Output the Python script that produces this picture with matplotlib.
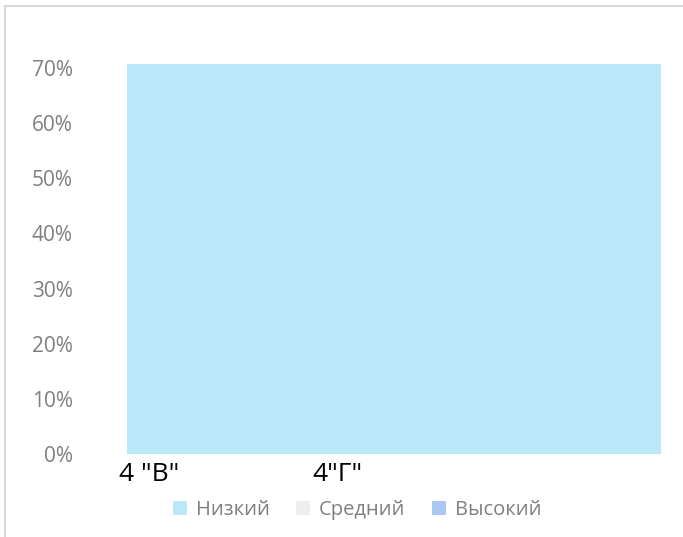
import matplotlib
matplotlib.use("Agg")
from matplotlib import pyplot as plt
from matplotlib.patches import Rectangle, Patch
from matplotlib.ticker import PercentFormatter

categories = ['4 "В"', '4"Г"']
series = ["Низкий", "Средний", "Высокий"]
low = [0.707, 0.707]
mid = [0.0, 0.0]
high = [0.0, 0.0]
colors = ["#BBE8F9", "#EEEEEE", "#A9C9F3"]

plt.rcParams['font.family'] = ['Open Sans', 'DejaVu Sans']

fig = plt.figure(figsize=(6.83, 5.37), dpi=100)
W, H = 683, 537
# axes: x 127..661 px, y 0% at 454 px, 0.75 at ~40 px
ax = fig.add_axes([127 / W, 1 - 454 / H, (661 - 127) / W, (454 - 40.4) / H])

x = list(range(len(categories)))
ax.bar(x, low, width=1.0, color=colors[0], label=series[0])
ax.bar(x, mid, width=1.0, bottom=low, color=colors[1], label=series[1])
ax.bar(x, high, width=1.0, bottom=[a + b for a, b in zip(low, mid)],
       color=colors[2], label=series[2])

ax.set_xlim(-0.5, len(categories) - 0.5)
ax.set_ylim(0, 0.75)
ax.set_yticks([i / 10 for i in range(8)])
ax.yaxis.set_major_formatter(PercentFormatter(1.0, decimals=0))
ax.tick_params(axis='y', length=0, pad=39, labelsize=15, labelcolor="#7F7F7F")
ax.set_xticks([])
for s in ax.spines.values():
    s.set_visible(False)

# category labels placed as in the source
for xf, txt in zip([0.042, 0.395], categories):
    ax.text(xf, -0.05, txt, transform=ax.transAxes, ha='center', va='center',
            fontsize=19, color="black")

handles = [Patch(facecolor=c, edgecolor='none') for c in colors]
fig.legend(handles, series, loc='center', bbox_to_anchor=(357 / W, 1 - 510 / H),
           ncol=3, frameon=False, fontsize=14.5, labelcolor="#7F7F7F",
           handlelength=0.7, handleheight=0.7, handletextpad=0.45, columnspacing=1.3)

fig.patches.append(Rectangle((5 / W, -0.1), 1.2, 1 - 6 / H + 0.1, transform=fig.transFigure,
                             fill=False, edgecolor="#D9D9D9", linewidth=1.5))

fig.savefig("out.png", dpi=100)
